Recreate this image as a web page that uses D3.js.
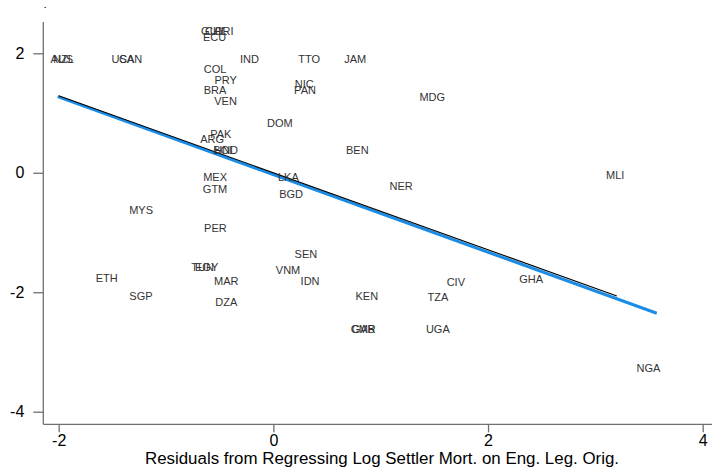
<!DOCTYPE html>
<html>
<head>
<meta charset="utf-8">
<script src="https://cdn.jsdelivr.net/npm/d3@7"></script>
<style>
  html, body { margin: 0; padding: 0; background: #fff; }
  svg { display: block; font-family: "Liberation Sans", Arial, sans-serif; }
</style>
</head>
<body>
<svg id="chart" width="712" height="472"></svg>
<script>
// Country codes and their residual coordinates
const countries = ["AUS","NZL","USA","CAN","GUY","CHL","CRI","ECU","IND","TTO","JAM",
  "COL","PRY","BRA","VEN","NIC","PAN","MDG","DOM","PAK","ARG","BOL","HND","BEN",
  "MEX","LKA","GTM","BGD","NER","PER","MYS","MLI","GHA","NGA","SEN","TUN","EGY",
  "ETH","MAR","VNM","IDN","SGP","DZA","KEN","CMR","GAB","CIV","TZA","UGA"];
const xResid = [-1.970,-1.955,-1.403,-1.329,-0.562,-0.534,-0.459,-0.548,-0.222,0.334,0.763,
  -0.543,-0.445,-0.543,-0.445,0.288,0.295,1.480,0.061,-0.489,-0.571,-0.457,-0.440,0.782,
  -0.543,0.140,-0.543,0.165,1.190,-0.540,-1.232,3.185,2.401,3.494,0.303,-0.660,-0.622,
  -1.552,-0.439,0.137,0.342,-1.234,-0.439,0.871,0.838,0.838,1.700,1.533,1.532];
const yResid = [1.900,1.900,1.900,1.900,2.374,2.374,2.374,2.269,1.900,1.900,1.900,
  1.733,1.554,1.386,1.207,1.487,1.386,1.274,0.829,0.650,0.561,0.382,0.382,0.382,
  -0.075,-0.075,-0.276,-0.355,-0.221,-0.929,-0.623,-0.037,-1.778,-3.273,-1.359,-1.582,-1.582,
  -1.766,-1.806,-1.627,-1.806,-2.063,-2.158,-2.063,-2.620,-2.620,-1.823,-2.074,-2.620];

// Fitted lines: intercept, slope and x range
const fitNames = ["subsample", "full"];
const fitIntercept = [0.000, -0.031];
const fitSlope = [-0.6446, -0.6497];
const fitXMin = [-2.000, -2.009];
const fitXMax = [3.200, 3.572];
const fitColor = ["#000000", "#1a8ce6"];
const fitWidth = [1.1, 3];

const xTicks = [-2, 0, 2, 4];
const yTicks = [-4, -2, 0, 2];
const xTitle = "Residuals from Regressing Log Settler Mort. on Eng. Leg. Orig.";

const svg = d3.select("#chart");

const x = d3.scaleLinear().domain([-2, 4]).range([58.7, 702.7]);
const y = d3.scaleLinear().domain([-4, 2]).range([411.7, 53.3]);

const axisLeftX = 43.3, axisBottomY = 424.3, axisTopY = 22;
const axisColor = "#707070";

// axis lines
svg.append("line").attr("x1", axisLeftX).attr("x2", axisLeftX)
  .attr("y1", axisTopY).attr("y2", axisBottomY)
  .attr("stroke", axisColor).attr("stroke-width", 1.3);
svg.append("line").attr("x1", axisLeftX).attr("x2", 712)
  .attr("y1", axisBottomY).attr("y2", axisBottomY)
  .attr("stroke", axisColor).attr("stroke-width", 1.3);

// y axis ticks and labels
const yAx = svg.append("g").attr("transform", `translate(${axisLeftX},0)`)
  .call(d3.axisLeft(y).tickValues(yTicks).tickSize(10).tickPadding(9).tickFormat(d3.format("d")));
yAx.select(".domain").remove();
yAx.selectAll("line").attr("stroke", axisColor).attr("stroke-width", 1.3);
yAx.selectAll("text").attr("font-size", 16).attr("fill", "#000")
  .attr("font-family", "Liberation Sans, Arial, sans-serif")
  .text(d => d < 0 ? "-" + Math.abs(d) : d);

// x axis ticks and labels
const xAx = svg.append("g").attr("transform", `translate(0,${axisBottomY})`)
  .call(d3.axisBottom(x).tickValues(xTicks).tickSize(8).tickPadding(2).tickFormat(d3.format("d")));
xAx.select(".domain").remove();
xAx.selectAll("line").attr("stroke", axisColor).attr("stroke-width", 1.3);
xAx.selectAll("text").attr("font-size", 16).attr("fill", "#000")
  .attr("font-family", "Liberation Sans, Arial, sans-serif")
  .text(d => d < 0 ? "-" + Math.abs(d) : d);

// axis titles
svg.append("text").attr("x", 382).attr("y", 464)
  .attr("text-anchor", "middle").attr("font-size", 16.9).attr("fill", "#000")
  .text(xTitle);
svg.append("text").attr("x", 45).attr("y", 7.5)
  .attr("text-anchor", "middle").attr("font-size", 8).attr("font-weight", "bold").attr("fill", "#000")
  .text(".");

// fitted lines (full sample first, subsample on top)
const fitOrder = [1, 0];
fitOrder.forEach(i => {
  const pts = [fitXMin[i], fitXMax[i]].map(v => [v, fitIntercept[i] + fitSlope[i] * v]);
  svg.append("path")
    .attr("d", d3.line().x(d => x(d[0])).y(d => y(d[1]))(pts))
    .attr("fill", "none").attr("stroke", fitColor[i]).attr("stroke-width", fitWidth[i]);
});

// country labels centred on each point
svg.append("g").selectAll("text")
  .data(countries.map((c, i) => ({ code: c, xv: xResid[i], yv: yResid[i] })))
  .join("text")
  .attr("x", d => x(d.xv)).attr("y", d => y(d.yv))
  .attr("dy", "0.36em").attr("text-anchor", "middle")
  .attr("font-size", 11).attr("fill", "#333")
  .text(d => d.code);
</script>
</body>
</html>
